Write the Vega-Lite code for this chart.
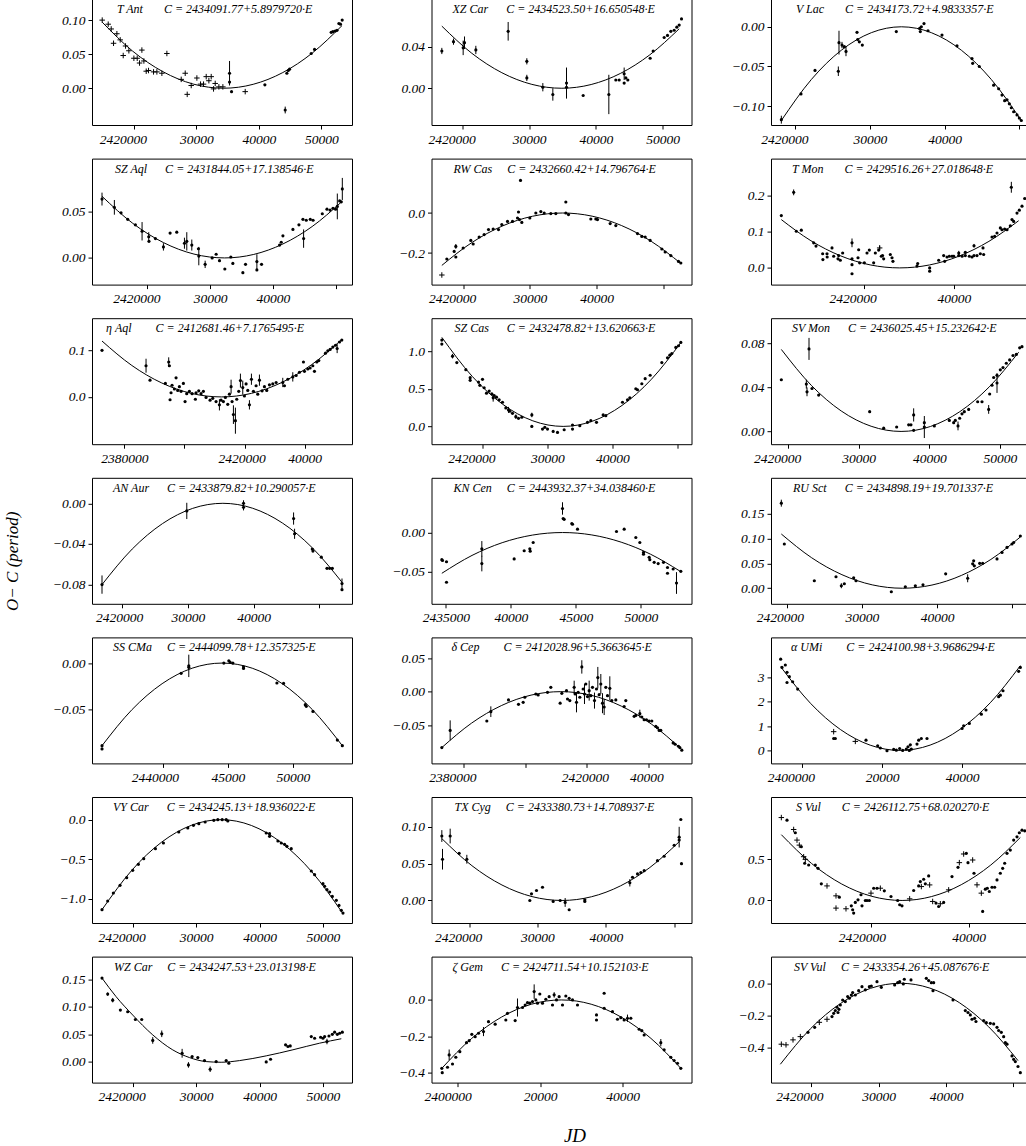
{
"$schema": "https://vega.github.io/schema/vega-lite/v6.json",
"background": "white",
"padding": {"left": 2, "top": -2, "right": 0, "bottom": 0},
"bounds": "flush",
"columns": 3,
"spacing": {"row": 33.6, "column": 79.5},
"config": {
 "view": {"stroke": "black", "strokeWidth": 1},
 "axis": {"grid": false, "domain": false, "ticks": true, "tickColor": "black", "tickSize": 4, "tickWidth": 1, "labelFont": "Liberation Serif", "labelFontStyle": "italic", "labelFontSize": 13.5, "labelColor": "black", "labelPadding": 3, "labelFlush": false, "labelOverlap": false},
 "title": {"font": "Liberation Serif", "fontStyle": "italic", "fontWeight": "normal", "fontSize": 12, "color": "black", "anchor": "start", "frame": "group", "offset": -17, "baseline": "alphabetic", "orient": "top"},
 "point": {"filled": true, "size": 10, "color": "black", "opacity": 1, "shape": "circle"},
 "line": {"color": "black", "strokeWidth": 1, "interpolate": "monotone"}
},
"datasets": {
"d1": [{"x":2414933,"y":0.100,"t":"v"},{"x":2415893,"y":0.094,"t":"v"},{"x":2416373,"y":0.087,"t":"v"},{"x":2416747,"y":0.066,"t":"v"},{"x":2417280,"y":0.080,"t":"v"},{"x":2417813,"y":0.071,"t":"v"},{"x":2418293,"y":0.048,"t":"v"},{"x":2418667,"y":0.062,"t":"v"},{"x":2419200,"y":0.055,"t":"v"},{"x":2420000,"y":0.044,"t":"v"},{"x":2420533,"y":0.044,"t":"v"},{"x":2420907,"y":0.037,"t":"v"},{"x":2421280,"y":0.056,"t":"v"},{"x":2421600,"y":0.040,"t":"v"},{"x":2421973,"y":0.025,"t":"v"},{"x":2422347,"y":0.026,"t":"v"},{"x":2423147,"y":0.024,"t":"v"},{"x":2423680,"y":0.024,"t":"v"},{"x":2424480,"y":0.022,"t":"v"},{"x":2425280,"y":0.051,"t":"v"},{"x":2427573,"y":0.013,"t":"v"},{"x":2428213,"y":0.022,"t":"v"},{"x":2428533,"y":-0.009,"t":"v"},{"x":2429173,"y":0.004,"t":"v"},{"x":2430080,"y":0.015,"t":"v"},{"x":2430667,"y":0.006,"t":"v"},{"x":2431147,"y":0.006,"t":"v"},{"x":2431573,"y":0.017,"t":"v"},{"x":2432000,"y":0.011,"t":"v"},{"x":2432373,"y":0.017,"t":"v"},{"x":2432747,"y":-0.001,"t":"v"},{"x":2433013,"y":0.007,"t":"v"},{"x":2433600,"y":0.002,"t":"v"},{"x":2434240,"y":0.002,"t":"v"},{"x":2435307,"y":0.022,"e":0.018},{"x":2435307,"y":0.009},{"x":2435627,"y":-0.005},{"x":2437813,"y":-0.005,"t":"v"},{"x":2440960,"y":0.005},{"x":2444213,"y":-0.032,"e":0.005},{"x":2444480,"y":0.022},{"x":2444700,"y":0.026},{"x":2444907,"y":0.028},{"x":2448373,"y":0.051},{"x":2448907,"y":0.057},{"x":2451573,"y":0.082},{"x":2451850,"y":0.083},{"x":2452213,"y":0.084},{"x":2452500,"y":0.085},{"x":2452800,"y":0.095},{"x":2453050,"y":0.094},{"x":2453333,"y":0.100}],
"f1": [{"x":2414933,"y":0.097},{"x":2419787,"y":0.0546},{"x":2424642,"y":0.0243},{"x":2429496,"y":0.0061},{"x":2434350,"y":0},{"x":2439089,"y":0.00575},{"x":2443828,"y":0.023},{"x":2448567,"y":0.0518},{"x":2453306,"y":0.092}],
"d2": [{"x":2412766,"y":0.064,"e":0.007},{"x":2414734,"y":0.055,"e":0.008},{"x":2415798,"y":0.049},{"x":2416862,"y":0.042},{"x":2418085,"y":0.036},{"x":2419149,"y":0.029,"e":0.01},{"x":2420213,"y":0.023,"e":0.005},{"x":2420250,"y":0.018},{"x":2421277,"y":0.021},{"x":2422553,"y":0.012,"e":0.004},{"x":2423617,"y":0.027},{"x":2424681,"y":0.028},{"x":2425904,"y":0.016,"e":0.006},{"x":2426277,"y":0.018,"e":0.01},{"x":2427075,"y":0.014,"e":0.006},{"x":2428138,"y":0.010},{"x":2428191,"y":0.002,"e":0.01},{"x":2429202,"y":-0.007,"e":0.004},{"x":2430319,"y":0.000},{"x":2430957,"y":0.004},{"x":2431489,"y":-0.003},{"x":2432340,"y":-0.012},{"x":2433298,"y":0.001},{"x":2433617,"y":-0.006},{"x":2435213,"y":-0.016},{"x":2435638,"y":-0.007},{"x":2437447,"y":-0.004,"e":0.008},{"x":2437447,"y":-0.013},{"x":2438191,"y":-0.007},{"x":2441064,"y":0.014},{"x":2441330,"y":0.017},{"x":2441596,"y":0.024},{"x":2443191,"y":0.031},{"x":2444149,"y":0.036},{"x":2444787,"y":0.042},{"x":2444894,"y":0.021,"e":0.01},{"x":2445319,"y":0.041},{"x":2445957,"y":0.042},{"x":2446400,"y":0.041},{"x":2447872,"y":0.048},{"x":2448617,"y":0.053},{"x":2449100,"y":0.052},{"x":2449574,"y":0.054},{"x":2449990,"y":0.053},{"x":2450266,"y":0.056,"e":0.014},{"x":2450638,"y":0.062},{"x":2451064,"y":0.075,"e":0.012},{"x":2450900,"y":0.061}],
"f2": [{"x":2412766,"y":0.067},{"x":2417650,"y":0.0377},{"x":2422533,"y":0.01675},{"x":2427417,"y":0.0042},{"x":2432300,"y":0},{"x":2436950,"y":0.0038},{"x":2441600,"y":0.0152},{"x":2446250,"y":0.0341},{"x":2450900,"y":0.0607}],
"d3": [{"x":2416900,"y":0.036,"e":0.003},{"x":2418650,"y":0.045,"e":0.003},{"x":2420100,"y":0.039,"e":0.007},{"x":2420300,"y":0.044,"e":0.006},{"x":2422000,"y":0.037,"e":0.004},{"x":2426850,"y":0.055,"e":0.009},{"x":2429650,"y":0.026,"e":0.003},{"x":2429650,"y":0.010,"e":0.003},{"x":2432050,"y":0.001,"e":0.004},{"x":2433550,"y":-0.006,"e":0.006},{"x":2435600,"y":0.005,"e":0.015},{"x":2435600,"y":0.001},{"x":2438100,"y":-0.007},{"x":2441950,"y":-0.006,"e":0.019},{"x":2443000,"y":0.008},{"x":2443500,"y":0.008},{"x":2444250,"y":0.005},{"x":2444250,"y":0.014,"e":0.006},{"x":2444500,"y":0.010},{"x":2444800,"y":0.008},{"x":2448150,"y":0.029},{"x":2448600,"y":0.036},{"x":2450250,"y":0.049},{"x":2450750,"y":0.051},{"x":2451250,"y":0.055},{"x":2451750,"y":0.056},{"x":2452150,"y":0.059},{"x":2452500,"y":0.061},{"x":2452850,"y":0.067}],
"f3": [{"x":2416900,"y":0.060},{"x":2421400,"y":0.03375},{"x":2425900,"y":0.015},{"x":2430400,"y":0.00375},{"x":2434900,"y":0},{"x":2439300,"y":0.0036},{"x":2443700,"y":0.01435},{"x":2448100,"y":0.0323},{"x":2452500,"y":0.0574}],
"d4": [{"x":2416800,"y":-0.310,"t":"v"},{"x":2417550,"y":-0.230},{"x":2418650,"y":-0.192},{"x":2418900,"y":-0.167,"e":0.012},{"x":2418900,"y":-0.220},{"x":2420000,"y":-0.175},{"x":2421150,"y":-0.137},{"x":2421500,"y":-0.155},{"x":2422400,"y":-0.120},{"x":2423150,"y":-0.108},{"x":2423800,"y":-0.083},{"x":2424500,"y":-0.080},{"x":2425300,"y":-0.083},{"x":2425800,"y":-0.058},{"x":2426650,"y":-0.042},{"x":2427400,"y":-0.042},{"x":2428150,"y":-0.025},{"x":2428300,"y":0.005},{"x":2428450,"y":-0.033},{"x":2428800,"y":-0.047},{"x":2428600,"y":0.163},{"x":2430000,"y":-0.025},{"x":2430900,"y":0.000},{"x":2431650,"y":0.007},{"x":2432150,"y":0.000},{"x":2433150,"y":-0.003},{"x":2433900,"y":-0.003},{"x":2435400,"y":0.055},{"x":2435400,"y":0.000},{"x":2435800,"y":-0.008},{"x":2439150,"y":-0.030},{"x":2439900,"y":-0.030},{"x":2440150,"y":-0.033},{"x":2442050,"y":-0.053},{"x":2442900,"y":-0.063},{"x":2446150,"y":-0.103},{"x":2446800,"y":-0.117},{"x":2447300,"y":-0.120},{"x":2448050,"y":-0.137},{"x":2449800,"y":-0.180},{"x":2450300,"y":-0.195},{"x":2451150,"y":-0.213},{"x":2452300,"y":-0.242},{"x":2452650,"y":-0.250}],
"f4": [{"x":2416800,"y":-0.262},{"x":2421325,"y":-0.1474},{"x":2425850,"y":-0.0655},{"x":2430375,"y":-0.0164},{"x":2434900,"y":0},{"x":2439338,"y":-0.01575},{"x":2443775,"y":-0.063},{"x":2448213,"y":-0.14175},{"x":2452650,"y":-0.252}],
"d5": [{"x":2418125,"y":-0.117,"e":0.005},{"x":2420759,"y":-0.0845},{"x":2422634,"y":-0.055},{"x":2425759,"y":-0.056,"e":0.006},{"x":2425848,"y":-0.020,"e":0.015},{"x":2426250,"y":-0.023,"e":0.004},{"x":2426562,"y":-0.025},{"x":2426785,"y":-0.031,"e":0.006},{"x":2428258,"y":-0.007},{"x":2428348,"y":-0.016},{"x":2428571,"y":-0.019},{"x":2428973,"y":-0.023},{"x":2433526,"y":-0.006},{"x":2436651,"y":-0.002},{"x":2436741,"y":-0.006},{"x":2436875,"y":0.000},{"x":2437232,"y":0.004},{"x":2437767,"y":-0.005},{"x":2439642,"y":-0.0105},{"x":2441651,"y":-0.024},{"x":2443660,"y":-0.040},{"x":2443750,"y":-0.046},{"x":2444642,"y":-0.050},{"x":2446562,"y":-0.0735},{"x":2447232,"y":-0.078},{"x":2447678,"y":-0.086},{"x":2448035,"y":-0.093},{"x":2448350,"y":-0.092},{"x":2448660,"y":-0.097},{"x":2448928,"y":-0.102},{"x":2449240,"y":-0.107},{"x":2449687,"y":-0.111},{"x":2450000,"y":-0.115},{"x":2450267,"y":-0.118}],
"f5": [{"x":2418125,"y":-0.118},{"x":2422144,"y":-0.0664},{"x":2426163,"y":-0.0295},{"x":2430181,"y":-0.0074},{"x":2434200,"y":0},{"x":2438217,"y":-0.0074},{"x":2442234,"y":-0.0295},{"x":2446250,"y":-0.0664},{"x":2450267,"y":-0.118}],
"d6": [{"x":2401722,"y":0.144},{"x":2404460,"y":0.208,"e":0.008},{"x":2405052,"y":0.101},{"x":2406162,"y":0.104},{"x":2408900,"y":0.069},{"x":2409418,"y":0.060},{"x":2410898,"y":0.039},{"x":2410950,"y":0.023},{"x":2411860,"y":0.039},{"x":2411900,"y":0.030},{"x":2412970,"y":0.055},{"x":2413340,"y":0.032},{"x":2414302,"y":0.025},{"x":2414450,"y":0.034},{"x":2414820,"y":0.021},{"x":2415338,"y":0.041},{"x":2417410,"y":0.069,"e":0.012},{"x":2417410,"y":0.025},{"x":2417410,"y":0.009},{"x":2417410,"y":-0.016},{"x":2418742,"y":0.028},{"x":2418890,"y":0.050},{"x":2419100,"y":0.014},{"x":2420148,"y":0.014},{"x":2420740,"y":0.041},{"x":2421258,"y":0.049},{"x":2422220,"y":0.014},{"x":2422590,"y":0.041},{"x":2423330,"y":0.049},{"x":2423552,"y":0.055,"e":0.006,"t":"v"},{"x":2423922,"y":0.032},{"x":2424200,"y":0.034},{"x":2424440,"y":0.025},{"x":2425920,"y":0.037},{"x":2426290,"y":0.028},{"x":2426500,"y":0.018},{"x":2431840,"y":0.005},{"x":2431990,"y":0.012},{"x":2434652,"y":0.000},{"x":2434652,"y":-0.009},{"x":2436650,"y":0.021},{"x":2437760,"y":0.034},{"x":2437980,"y":0.018},{"x":2438500,"y":0.030},{"x":2439020,"y":0.032},{"x":2439610,"y":0.032},{"x":2440000,"y":0.032},{"x":2441110,"y":0.041,"e":0.006},{"x":2441110,"y":0.034},{"x":2441850,"y":0.032},{"x":2442570,"y":0.034},{"x":2442570,"y":0.043},{"x":2443460,"y":0.032},{"x":2444050,"y":0.030},{"x":2444494,"y":0.061,"e":0.005},{"x":2444494,"y":0.034},{"x":2445160,"y":0.034},{"x":2445900,"y":0.039},{"x":2446492,"y":0.055},{"x":2446640,"y":0.037},{"x":2448490,"y":0.085},{"x":2449080,"y":0.087},{"x":2449600,"y":0.096},{"x":2450340,"y":0.110},{"x":2450710,"y":0.105},{"x":2451300,"y":0.107},{"x":2451820,"y":0.105},{"x":2452560,"y":0.116},{"x":2452782,"y":0.222,"e":0.015},{"x":2452930,"y":0.133},{"x":2453300,"y":0.128},{"x":2454040,"y":0.151},{"x":2454560,"y":0.159},{"x":2455150,"y":0.170},{"x":2455740,"y":0.191}],
"f6": [{"x":2401722,"y":0.133},{"x":2408292,"y":0.0748},{"x":2414861,"y":0.03325},{"x":2421431,"y":0.0083},{"x":2428000,"y":0},{"x":2434603,"y":0.0081},{"x":2441205,"y":0.0325},{"x":2447808,"y":0.0731},{"x":2454410,"y":0.130}],
"d7": [{"x":2372563,"y":0.100},{"x":2387215,"y":0.067,"e":0.015},{"x":2388547,"y":0.036},{"x":2393653,"y":0.029},{"x":2394763,"y":0.075,"e":0.01},{"x":2394985,"y":0.067},{"x":2395207,"y":-0.006},{"x":2395540,"y":0.009},{"x":2395873,"y":0.025},{"x":2396650,"y":0.017},{"x":2397205,"y":0.041},{"x":2397760,"y":0.014},{"x":2398315,"y":0.022},{"x":2398870,"y":0.012},{"x":2399647,"y":0.029},{"x":2400202,"y":-0.010},{"x":2400757,"y":0.007},{"x":2401645,"y":0.012},{"x":2402533,"y":0.007},{"x":2403643,"y":-0.005},{"x":2403865,"y":0.009},{"x":2404753,"y":0.013},{"x":2405530,"y":0.007},{"x":2406307,"y":0.012},{"x":2407195,"y":-0.001},{"x":2408527,"y":-0.007},{"x":2409415,"y":-0.003},{"x":2410525,"y":-0.010},{"x":2411635,"y":-0.017,"e":0.012},{"x":2412190,"y":-0.007},{"x":2412967,"y":-0.010},{"x":2413633,"y":-0.001},{"x":2414410,"y":-0.016},{"x":2414965,"y":0.006},{"x":2415520,"y":0.022,"e":0.015},{"x":2415853,"y":-0.010},{"x":2416297,"y":-0.038,"e":0.02},{"x":2416963,"y":-0.051,"e":0.028},{"x":2417407,"y":-0.005},{"x":2418073,"y":0.012},{"x":2418628,"y":0.035,"e":0.015},{"x":2419405,"y":0.020,"e":0.015},{"x":2419960,"y":0.002},{"x":2420515,"y":0.028},{"x":2421070,"y":0.014},{"x":2421625,"y":-0.017,"e":0.01},{"x":2422291,"y":0.038,"e":0.012},{"x":2422957,"y":0.012},{"x":2423845,"y":0.024},{"x":2424400,"y":0.006},{"x":2424955,"y":0.036,"e":0.012},{"x":2425843,"y":0.013},{"x":2426620,"y":0.022},{"x":2427397,"y":0.014},{"x":2428285,"y":0.026},{"x":2429395,"y":0.028},{"x":2430505,"y":0.031},{"x":2432725,"y":0.031,"e":0.01},{"x":2433280,"y":0.024},{"x":2434390,"y":0.038},{"x":2436055,"y":0.043,"e":0.01},{"x":2437165,"y":0.046},{"x":2438275,"y":0.053},{"x":2439607,"y":0.075},{"x":2439940,"y":0.055},{"x":2441050,"y":0.060},{"x":2441827,"y":0.062},{"x":2442715,"y":0.067},{"x":2443270,"y":0.055},{"x":2444047,"y":0.075},{"x":2444713,"y":0.078},{"x":2446933,"y":0.094},{"x":2447710,"y":0.099},{"x":2448487,"y":0.102},{"x":2449375,"y":0.107},{"x":2450263,"y":0.111},{"x":2450818,"y":0.104,"e":0.01},{"x":2451595,"y":0.118},{"x":2452372,"y":0.122}],
"f7": [{"x":2372563,"y":0.120},{"x":2382497,"y":0.0675},{"x":2392432,"y":0.030},{"x":2402366,"y":0.0075},{"x":2412300,"y":0},{"x":2422263,"y":0.0076},{"x":2432225,"y":0.0305},{"x":2442188,"y":0.0686},{"x":2452150,"y":0.122}],
"d8": [{"x":2413744,"y":1.147},{"x":2413744,"y":1.094},{"x":2415385,"y":0.933,"e":0.03},{"x":2416051,"y":0.848},{"x":2417436,"y":0.754},{"x":2418103,"y":0.647},{"x":2418103,"y":0.612},{"x":2419385,"y":0.589},{"x":2419590,"y":0.545},{"x":2420000,"y":0.625},{"x":2420256,"y":0.513},{"x":2420615,"y":0.442},{"x":2421026,"y":0.469},{"x":2421436,"y":0.433},{"x":2421641,"y":0.379,"e":0.05},{"x":2421795,"y":0.411},{"x":2422154,"y":0.388},{"x":2422564,"y":0.353},{"x":2423077,"y":0.321},{"x":2423590,"y":0.246},{"x":2424000,"y":0.219,"e":0.04},{"x":2424205,"y":0.201},{"x":2424615,"y":0.174},{"x":2425128,"y":0.129,"e":0.03},{"x":2425538,"y":0.107},{"x":2426051,"y":0.121},{"x":2427590,"y":0.152,"e":0.03},{"x":2427590,"y":0.000},{"x":2429230,"y":-0.036},{"x":2429590,"y":-0.013},{"x":2430000,"y":-0.036},{"x":2430872,"y":-0.067},{"x":2431538,"y":-0.080},{"x":2432564,"y":-0.045},{"x":2433846,"y":0.018},{"x":2433846,"y":-0.036},{"x":2434974,"y":0.009},{"x":2436154,"y":0.054},{"x":2436667,"y":0.076},{"x":2437538,"y":0.054},{"x":2438564,"y":0.152},{"x":2438974,"y":0.143},{"x":2441538,"y":0.321},{"x":2442308,"y":0.353},{"x":2442667,"y":0.379},{"x":2443590,"y":0.500},{"x":2443846,"y":0.487},{"x":2444513,"y":0.567},{"x":2445026,"y":0.634},{"x":2445795,"y":0.679},{"x":2447590,"y":0.848},{"x":2448462,"y":0.911},{"x":2448820,"y":0.946},{"x":2449128,"y":0.969},{"x":2449744,"y":1.049},{"x":2450154,"y":1.071},{"x":2450513,"y":1.116}],
"f8": [{"x":2413744,"y":1.183},{"x":2418410,"y":0.6654},{"x":2423077,"y":0.2958},{"x":2427744,"y":0.0739},{"x":2432410,"y":0},{"x":2436936,"y":0.0696},{"x":2441462,"y":0.2783},{"x":2445987,"y":0.626},{"x":2450513,"y":1.113}],
"d9": [{"x":2419057,"y":0.047},{"x":2422594,"y":0.043,"e":0.004},{"x":2422690,"y":0.036,"e":0.004},{"x":2422972,"y":0.075,"e":0.01},{"x":2423396,"y":0.039},{"x":2424340,"y":0.033},{"x":2431557,"y":0.018},{"x":2433538,"y":0.003},{"x":2435377,"y":0.004},{"x":2437075,"y":0.006},{"x":2437400,"y":0.006},{"x":2437783,"y":0.015,"e":0.006},{"x":2437783,"y":0.001},{"x":2439293,"y":0.008},{"x":2439293,"y":0.004,"e":0.01},{"x":2440707,"y":0.005},{"x":2442830,"y":0.010},{"x":2443443,"y":0.008},{"x":2443680,"y":0.010},{"x":2444057,"y":0.005,"e":0.004},{"x":2444292,"y":0.012},{"x":2444623,"y":0.016},{"x":2444953,"y":0.018},{"x":2445566,"y":0.020},{"x":2446840,"y":0.027},{"x":2447453,"y":0.027},{"x":2448396,"y":0.020,"e":0.004},{"x":2448538,"y":0.034},{"x":2448868,"y":0.042},{"x":2449104,"y":0.049},{"x":2449576,"y":0.051},{"x":2449576,"y":0.044,"e":0.009},{"x":2450047,"y":0.056},{"x":2450425,"y":0.058},{"x":2450896,"y":0.062},{"x":2451368,"y":0.065},{"x":2451840,"y":0.069},{"x":2452311,"y":0.070},{"x":2452783,"y":0.076},{"x":2453113,"y":0.077}],
"f9": [{"x":2419057,"y":0.0745},{"x":2423293,"y":0.0419},{"x":2427529,"y":0.0186},{"x":2431764,"y":0.0047},{"x":2436000,"y":0},{"x":2440161,"y":0.0045},{"x":2444321,"y":0.018},{"x":2448482,"y":0.0405},{"x":2452642,"y":0.072}],
"d10": [{"x":2416954,"y":-0.080,"e":0.009},{"x":2429848,"y":-0.0075,"e":0.008},{"x":2438477,"y":0.000,"e":0.003},{"x":2438477,"y":-0.004,"e":0.003},{"x":2446091,"y":-0.015,"e":0.006},{"x":2446243,"y":-0.030,"e":0.005},{"x":2448934,"y":-0.045},{"x":2449035,"y":-0.047},{"x":2450305,"y":-0.053},{"x":2451168,"y":-0.064},{"x":2451574,"y":-0.064},{"x":2451980,"y":-0.064},{"x":2453452,"y":-0.079,"e":0.005},{"x":2453452,"y":-0.085}],
"f10": [{"x":2416954,"y":-0.080},{"x":2421549,"y":-0.045},{"x":2426145,"y":-0.020},{"x":2430740,"y":-0.005},{"x":2435335,"y":0},{"x":2439864,"y":-0.00486},{"x":2444394,"y":-0.0194},{"x":2448923,"y":-0.0437},{"x":2453452,"y":-0.0777}],
"d11": [{"x":2434692,"y":-0.035},{"x":2434743,"y":-0.036},{"x":2435051,"y":-0.0376},{"x":2435051,"y":-0.064},{"x":2437769,"y":-0.021,"e":0.01},{"x":2437769,"y":-0.040,"e":0.01},{"x":2440256,"y":-0.034},{"x":2441026,"y":-0.0235},{"x":2441461,"y":-0.021},{"x":2441487,"y":-0.024},{"x":2441718,"y":-0.0128},{"x":2443974,"y":0.031,"e":0.008},{"x":2444025,"y":0.018},{"x":2444102,"y":0.017},{"x":2444692,"y":0.0115},{"x":2444743,"y":0.0107},{"x":2445128,"y":0.0043},{"x":2448128,"y":0.0013},{"x":2448718,"y":0.0043},{"x":2449615,"y":-0.0064},{"x":2449923,"y":-0.0128},{"x":2450205,"y":-0.0256},{"x":2450205,"y":-0.028},{"x":2450641,"y":-0.032},{"x":2450692,"y":-0.035},{"x":2451025,"y":-0.0384},{"x":2451333,"y":-0.040},{"x":2451743,"y":-0.0384},{"x":2452051,"y":-0.045},{"x":2452051,"y":-0.0525},{"x":2452487,"y":-0.047},{"x":2452743,"y":-0.065,"e":0.014},{"x":2453076,"y":-0.050}],
"f11": [{"x":2434692,"y":-0.0525},{"x":2437013,"y":-0.0295},{"x":2439333,"y":-0.0131},{"x":2441654,"y":-0.0033},{"x":2443974,"y":0},{"x":2446231,"y":-0.0031},{"x":2448487,"y":-0.0124},{"x":2450744,"y":-0.0279},{"x":2453000,"y":-0.0496}],
"d12": [{"x":2419244,"y":0.171,"e":0.007},{"x":2419644,"y":0.089},{"x":2423644,"y":0.015},{"x":2426533,"y":0.023},{"x":2427244,"y":0.005,"e":0.005},{"x":2427644,"y":0.009},{"x":2428889,"y":0.021},{"x":2429200,"y":0.015},{"x":2433911,"y":-0.007},{"x":2435778,"y":0.003},{"x":2437111,"y":0.005},{"x":2438133,"y":0.007},{"x":2441156,"y":0.029},{"x":2444089,"y":0.020,"e":0.008},{"x":2444756,"y":0.049},{"x":2444889,"y":0.055},{"x":2444978,"y":0.045},{"x":2445689,"y":0.050},{"x":2446089,"y":0.050},{"x":2448000,"y":0.059},{"x":2448667,"y":0.072},{"x":2449333,"y":0.082},{"x":2450000,"y":0.089},{"x":2450222,"y":0.092},{"x":2451111,"y":0.105}],
"f12": [{"x":2419244,"y":0.109},{"x":2423284,"y":0.0613},{"x":2427324,"y":0.02725},{"x":2431364,"y":0.0068},{"x":2435404,"y":0},{"x":2439331,"y":0.0064},{"x":2443258,"y":0.02575},{"x":2447184,"y":0.0579},{"x":2451111,"y":0.103}],
"d13": [{"x":2435334,"y":-0.0885},{"x":2435334,"y":-0.092},{"x":2441410,"y":-0.011},{"x":2442000,"y":-0.003,"e":0.012},{"x":2442000,"y":-0.0046},{"x":2444692,"y":0.000},{"x":2445077,"y":0.0025},{"x":2445180,"y":0.0007},{"x":2445385,"y":0.000},{"x":2446205,"y":-0.004},{"x":2446205,"y":-0.0057},{"x":2448769,"y":-0.0214},{"x":2449282,"y":-0.0218},{"x":2450949,"y":-0.0446},{"x":2451026,"y":-0.0464},{"x":2451538,"y":-0.0518},{"x":2453410,"y":-0.0825},{"x":2453795,"y":-0.0885}],
"f13": [{"x":2435334,"y":-0.0885},{"x":2437642,"y":-0.0498},{"x":2439950,"y":-0.0221},{"x":2442257,"y":-0.0055},{"x":2444565,"y":0},{"x":2446873,"y":-0.0055},{"x":2449180,"y":-0.0221},{"x":2451488,"y":-0.0498},{"x":2453795,"y":-0.0885}],
"d14": [{"x":2372973,"y":-0.0837},{"x":2375676,"y":-0.058,"e":0.015},{"x":2387567,"y":-0.044},{"x":2388864,"y":-0.030,"e":0.008},{"x":2394594,"y":-0.0124},{"x":2397837,"y":-0.019},{"x":2399351,"y":-0.016},{"x":2399892,"y":-0.0084},{"x":2403459,"y":-0.0035},{"x":2404216,"y":-0.005},{"x":2407240,"y":-0.001},{"x":2408322,"y":0.0064},{"x":2411349,"y":-0.0173},{"x":2411890,"y":-0.0025},{"x":2413404,"y":0.0015},{"x":2413728,"y":-0.011},{"x":2414485,"y":-0.0134},{"x":2415890,"y":0.0064,"e":0.01},{"x":2416214,"y":-0.0035},{"x":2416647,"y":-0.016,"e":0.015},{"x":2417187,"y":-0.001},{"x":2417727,"y":-0.0084},{"x":2418375,"y":0.037,"e":0.01},{"x":2418808,"y":0.004},{"x":2419240,"y":-0.0035,"e":0.015},{"x":2419672,"y":0.0114},{"x":2420213,"y":-0.0074},{"x":2420754,"y":0.0015,"e":0.015},{"x":2421294,"y":-0.006},{"x":2421835,"y":0.0064},{"x":2422484,"y":-0.0134,"e":0.012},{"x":2423132,"y":0.004},{"x":2423564,"y":0.021,"e":0.016},{"x":2423997,"y":-0.0045},{"x":2424538,"y":0.0114,"e":0.015},{"x":2425078,"y":-0.0173,"e":0.015},{"x":2425619,"y":-0.023,"e":0.012},{"x":2426159,"y":0.0064},{"x":2426699,"y":-0.006},{"x":2427456,"y":0.005,"e":0.018},{"x":2428105,"y":-0.0134},{"x":2429402,"y":-0.0124},{"x":2432104,"y":-0.0223},{"x":2432645,"y":-0.0134},{"x":2435348,"y":-0.037},{"x":2435888,"y":-0.0356},{"x":2437185,"y":-0.033,"e":0.006},{"x":2437834,"y":-0.038},{"x":2438590,"y":-0.042},{"x":2439347,"y":-0.042},{"x":2440212,"y":-0.044},{"x":2441077,"y":-0.044},{"x":2442373,"y":-0.052},{"x":2442914,"y":-0.054},{"x":2443455,"y":-0.058},{"x":2443995,"y":-0.058},{"x":2447995,"y":-0.0767},{"x":2448643,"y":-0.0787},{"x":2449723,"y":-0.0817},{"x":2450156,"y":-0.0837},{"x":2450805,"y":-0.0876}],
"f14": [{"x":2372973,"y":-0.0837},{"x":2382619,"y":-0.0471},{"x":2392264,"y":-0.0209},{"x":2401910,"y":-0.0052},{"x":2411555,"y":0},{"x":2421368,"y":-0.0054},{"x":2431180,"y":-0.02165},{"x":2440993,"y":-0.0487},{"x":2450805,"y":-0.0866}],
"d15": [{"x":2394669,"y":3.75},{"x":2395002,"y":3.41},{"x":2395835,"y":3.51},{"x":2396252,"y":3.21},{"x":2396835,"y":3.03},{"x":2396252,"y":2.79},{"x":2397668,"y":2.82},{"x":2398917,"y":2.52},{"x":2407914,"y":0.77,"t":"v"},{"x":2407914,"y":0.49},{"x":2408330,"y":0.49},{"x":2413328,"y":0.37,"t":"v"},{"x":2415994,"y":0.42},{"x":2418909,"y":0.19},{"x":2419576,"y":0.10},{"x":2421242,"y":-0.01},{"x":2422908,"y":0.04},{"x":2423574,"y":0.01},{"x":2424407,"y":0.08},{"x":2425157,"y":0.0},{"x":2426073,"y":0.05},{"x":2426489,"y":0.15},{"x":2426822,"y":0.0},{"x":2427072,"y":0.23},{"x":2427322,"y":0.05},{"x":2428738,"y":0.26},{"x":2429155,"y":0.42},{"x":2429821,"y":0.49},{"x":2431237,"y":0.49},{"x":2440000,"y":0.90},{"x":2440400,"y":1.01},{"x":2441816,"y":1.11},{"x":2444815,"y":1.49},{"x":2445981,"y":1.66},{"x":2449146,"y":2.21},{"x":2449563,"y":2.27},{"x":2450229,"y":2.45},{"x":2454144,"y":3.25},{"x":2454561,"y":3.41}],
"f15": [{"x":2394669,"y":3.44},{"x":2402127,"y":1.935},{"x":2409585,"y":0.86},{"x":2417042,"y":0.215},{"x":2424500,"y":0},{"x":2432015,"y":0.2175},{"x":2439531,"y":0.87},{"x":2447046,"y":1.9575},{"x":2454561,"y":3.48}],
"d16": [{"x":2415158,"y":-1.139},{"x":2416053,"y":-1.030},{"x":2416947,"y":-0.928},{"x":2418000,"y":-0.831},{"x":2419053,"y":-0.734},{"x":2420000,"y":-0.641},{"x":2420895,"y":-0.565},{"x":2421737,"y":-0.494},{"x":2423579,"y":-0.367},{"x":2424842,"y":-0.295},{"x":2427263,"y":-0.156},{"x":2428684,"y":-0.1055},{"x":2429579,"y":-0.072},{"x":2430421,"y":-0.051},{"x":2431421,"y":-0.030},{"x":2432790,"y":-0.008},{"x":2433421,"y":0},{"x":2434105,"y":0},{"x":2434737,"y":0},{"x":2435000,"y":-0.017},{"x":2441053,"y":-0.169},{"x":2441579,"y":-0.177},{"x":2441579,"y":-0.211},{"x":2442895,"y":-0.270},{"x":2443421,"y":-0.295},{"x":2443947,"y":-0.312},{"x":2444316,"y":-0.338},{"x":2444999,"y":-0.367},{"x":2448158,"y":-0.650},{"x":2448684,"y":-0.696},{"x":2450000,"y":-0.810},{"x":2450263,"y":-0.844},{"x":2450632,"y":-0.886},{"x":2451053,"y":-0.916},{"x":2451474,"y":-0.971},{"x":2452105,"y":-1.021},{"x":2452526,"y":-1.085},{"x":2452895,"y":-1.148},{"x":2453158,"y":-1.182}],
"f16": [{"x":2415158,"y":-1.139},{"x":2419855,"y":-0.6407},{"x":2424553,"y":-0.2848},{"x":2429250,"y":-0.0712},{"x":2433947,"y":0},{"x":2438724,"y":-0.0736},{"x":2443500,"y":-0.2945},{"x":2448277,"y":-0.6626},{"x":2453053,"y":-1.178}],
"d17": [{"x":2416000,"y":0.0875,"e":0.008},{"x":2416098,"y":0.056,"e":0.014},{"x":2417220,"y":0.0875,"e":0.01},{"x":2418537,"y":0.064},{"x":2419659,"y":0.056,"e":0.006},{"x":2428878,"y":0.000},{"x":2429122,"y":0.009},{"x":2429854,"y":0.0135},{"x":2430732,"y":0.018},{"x":2432293,"y":-0.0013},{"x":2433317,"y":0.000},{"x":2434049,"y":-0.0027,"e":0.006},{"x":2434634,"y":-0.0126},{"x":2436927,"y":0.001},{"x":2436927,"y":-0.0013},{"x":2443512,"y":0.024,"e":0.005},{"x":2443902,"y":0.0315},{"x":2444634,"y":0.036},{"x":2445122,"y":0.038},{"x":2445610,"y":0.0405},{"x":2447561,"y":0.054},{"x":2448537,"y":0.060},{"x":2450000,"y":0.075},{"x":2450732,"y":0.086,"e":0.014},{"x":2450732,"y":0.082},{"x":2450976,"y":0.110},{"x":2451073,"y":0.050}],
"f17": [{"x":2416000,"y":0.084},{"x":2420400,"y":0.04725},{"x":2424799,"y":0.021},{"x":2429199,"y":0.00525},{"x":2433598,"y":0},{"x":2437882,"y":0.005},{"x":2442165,"y":0.0199},{"x":2446449,"y":0.0448},{"x":2450732,"y":0.0797}],
"d18": [{"x":2401638,"y":1.008,"t":"v"},{"x":2402798,"y":0.976},{"x":2404163,"y":0.863,"t":"v"},{"x":2404505,"y":0.823},{"x":2404846,"y":0.734,"t":"v"},{"x":2405324,"y":0.673,"t":"v"},{"x":2405734,"y":0.653},{"x":2406212,"y":0.532,"t":"v"},{"x":2406417,"y":0.452},{"x":2406553,"y":0.500,"t":"v"},{"x":2407235,"y":0.431},{"x":2408600,"y":0.431},{"x":2409146,"y":0.391},{"x":2409829,"y":0.202},{"x":2410990,"y":0.177,"t":"v"},{"x":2412833,"y":0.056,"t":"v"},{"x":2412833,"y":-0.093,"t":"v"},{"x":2413515,"y":0.040},{"x":2414880,"y":-0.101,"t":"v"},{"x":2415973,"y":-0.065},{"x":2416246,"y":-0.113},{"x":2416450,"y":-0.153},{"x":2416792,"y":-0.024},{"x":2417338,"y":0.008},{"x":2417952,"y":0.069},{"x":2418157,"y":-0.065},{"x":2418840,"y":0.000},{"x":2419181,"y":0.0},{"x":2419659,"y":0.0},{"x":2420000,"y":0.089,"t":"v"},{"x":2420546,"y":0.149},{"x":2421229,"y":0.149},{"x":2421911,"y":0.149,"t":"v"},{"x":2422730,"y":0.117},{"x":2424096,"y":0.048},{"x":2425461,"y":0.0},{"x":2425871,"y":-0.052},{"x":2426348,"y":-0.065},{"x":2427918,"y":0.020,"t":"v"},{"x":2428737,"y":0.121},{"x":2429761,"y":0.177},{"x":2430102,"y":0.230},{"x":2430307,"y":0.169,"t":"v"},{"x":2430785,"y":0.258},{"x":2431126,"y":0.202},{"x":2431809,"y":0.298},{"x":2432014,"y":0.189,"t":"v"},{"x":2432628,"y":-0.012,"t":"v"},{"x":2433310,"y":-0.032},{"x":2433857,"y":-0.073},{"x":2434198,"y":-0.040,"t":"v"},{"x":2434881,"y":-0.024},{"x":2435905,"y":0.129,"t":"v"},{"x":2436587,"y":0.290},{"x":2437816,"y":0.403},{"x":2438089,"y":0.460,"t":"v"},{"x":2438976,"y":0.565,"t":"v"},{"x":2439522,"y":0.573},{"x":2439864,"y":0.460},{"x":2440819,"y":0.492,"t":"v"},{"x":2441092,"y":0.331},{"x":2441707,"y":0.190,"t":"v"},{"x":2442594,"y":0.089,"t":"v"},{"x":2442867,"y":-0.133},{"x":2443413,"y":0.137},{"x":2443823,"y":0.149},{"x":2444232,"y":0.109},{"x":2444778,"y":0.161},{"x":2445324,"y":0.161},{"x":2445802,"y":0.250},{"x":2446485,"y":0.331},{"x":2446963,"y":0.391},{"x":2447372,"y":0.452},{"x":2447850,"y":0.573},{"x":2448532,"y":0.613},{"x":2449215,"y":0.734},{"x":2449898,"y":0.774},{"x":2450376,"y":0.823},{"x":2450922,"y":0.855},{"x":2451468,"y":0.847}],
"f18": [{"x":2401638,"y":0.8},{"x":2407825,"y":0.45},{"x":2414007,"y":0.2},{"x":2420192,"y":0.05},{"x":2426376,"y":0},{"x":2432427,"y":0.0479},{"x":2438479,"y":0.1915},{"x":2444530,"y":0.4309},{"x":2450581,"y":0.766}],
"d19": [{"x":2415158,"y":0.152},{"x":2416053,"y":0.123,"e":0.003},{"x":2416842,"y":0.112,"e":0.004},{"x":2418053,"y":0.094},{"x":2419211,"y":0.091},{"x":2420421,"y":0.077},{"x":2421421,"y":0.077},{"x":2423158,"y":0.039,"e":0.006},{"x":2424579,"y":0.051,"e":0.006},{"x":2427789,"y":0.0157,"e":0.008},{"x":2428789,"y":-0.0054,"e":0.005},{"x":2429368,"y":0.0097},{"x":2430263,"y":0.0079},{"x":2431316,"y":0.0024},{"x":2432210,"y":-0.0133,"e":0.005},{"x":2433158,"y":0.0006},{"x":2434737,"y":0.0024},{"x":2435158,"y":-0.0024},{"x":2441053,"y":0.000},{"x":2441737,"y":0.0048},{"x":2444105,"y":0.031},{"x":2444474,"y":0.028},{"x":2444842,"y":0.029},{"x":2448158,"y":0.046},{"x":2448684,"y":0.043},{"x":2449632,"y":0.0447},{"x":2450000,"y":0.043},{"x":2450263,"y":0.046},{"x":2450632,"y":0.037,"e":0.005},{"x":2450947,"y":0.047},{"x":2451474,"y":0.050},{"x":2451842,"y":0.054},{"x":2452263,"y":0.050},{"x":2452632,"y":0.052},{"x":2453053,"y":0.054}],
"f19": [{"x":2415158,"y":0.152},{"x":2417368,"y":0.1185},{"x":2420000,"y":0.085},{"x":2423158,"y":0.049},{"x":2426316,"y":0.0218},{"x":2428947,"y":0.0079},{"x":2431579,"y":0.0006},{"x":2433947,"y":-0.0006},{"x":2436842,"y":0.0024},{"x":2441053,"y":0.011},{"x":2445263,"y":0.022},{"x":2449474,"y":0.034},{"x":2452895,"y":0.042}],
"d20": [{"x":2396202,"y":-0.378},{"x":2396300,"y":-0.402},{"x":2397576,"y":-0.372},{"x":2397980,"y":-0.304,"e":0.03},{"x":2398788,"y":-0.354},{"x":2399596,"y":-0.317},{"x":2400566,"y":-0.286},{"x":2402182,"y":-0.236},{"x":2402828,"y":-0.225},{"x":2403474,"y":-0.190},{"x":2404282,"y":-0.203},{"x":2405090,"y":-0.184},{"x":2406302,"y":-0.175,"e":0.025},{"x":2407514,"y":-0.120},{"x":2409130,"y":-0.134},{"x":2411716,"y":-0.111},{"x":2412120,"y":-0.074},{"x":2413978,"y":-0.114},{"x":2414544,"y":-0.042,"e":0.05},{"x":2415756,"y":-0.042},{"x":2416402,"y":-0.028},{"x":2416968,"y":-0.015},{"x":2417534,"y":-0.018},{"x":2418180,"y":-0.009},{"x":2418584,"y":0.046,"e":0.04},{"x":2418988,"y":0.0},{"x":2419392,"y":-0.018},{"x":2419958,"y":0.033},{"x":2420604,"y":-0.018},{"x":2421412,"y":0.004},{"x":2422220,"y":0.018},{"x":2423028,"y":-0.028},{"x":2423432,"y":0.028,"e":0.015},{"x":2423998,"y":0.0},{"x":2424640,"y":0.018},{"x":2425452,"y":-0.028},{"x":2426260,"y":0.022},{"x":2427068,"y":0.009},{"x":2427876,"y":0.0},{"x":2429088,"y":-0.028},{"x":2433694,"y":-0.083},{"x":2433694,"y":-0.111},{"x":2435552,"y":0.037},{"x":2435552,"y":-0.046},{"x":2437572,"y":-0.065},{"x":2438784,"y":-0.107},{"x":2439592,"y":-0.098},{"x":2440400,"y":-0.111},{"x":2441208,"y":-0.101,"e":0.02},{"x":2442016,"y":-0.101},{"x":2444036,"y":-0.162},{"x":2444684,"y":-0.170},{"x":2445248,"y":-0.194},{"x":2449288,"y":-0.236,"e":0.02},{"x":2450096,"y":-0.276},{"x":2451712,"y":-0.317},{"x":2452520,"y":-0.335},{"x":2453328,"y":-0.350},{"x":2454136,"y":-0.378}],
"f20": [{"x":2396202,"y":-0.378},{"x":2403444,"y":-0.2126},{"x":2410686,"y":-0.0945},{"x":2417927,"y":-0.0236},{"x":2425169,"y":0},{"x":2432411,"y":-0.0236},{"x":2439653,"y":-0.0945},{"x":2446894,"y":-0.2126},{"x":2454136,"y":-0.378}],
"d21": [{"x":2415545,"y":-0.379,"t":"v"},{"x":2416238,"y":-0.383,"t":"v"},{"x":2417278,"y":-0.352,"t":"v"},{"x":2418366,"y":-0.332,"t":"v"},{"x":2419505,"y":-0.305},{"x":2420495,"y":-0.274},{"x":2421188,"y":-0.243,"t":"v"},{"x":2422327,"y":-0.224,"t":"v"},{"x":2423069,"y":-0.207},{"x":2423317,"y":-0.187},{"x":2423564,"y":-0.170},{"x":2423812,"y":-0.149},{"x":2423960,"y":-0.182},{"x":2424100,"y":-0.162},{"x":2424307,"y":-0.135},{"x":2424653,"y":-0.104},{"x":2425049,"y":-0.114},{"x":2425396,"y":-0.083},{"x":2425650,"y":-0.093},{"x":2425940,"y":-0.073},{"x":2426138,"y":-0.058},{"x":2426534,"y":-0.073},{"x":2427029,"y":-0.046},{"x":2427524,"y":-0.021},{"x":2428019,"y":-0.041},{"x":2428613,"y":-0.021},{"x":2428910,"y":-0.017},{"x":2429752,"y":0.010},{"x":2430395,"y":-0.025},{"x":2432375,"y":-0.010},{"x":2432821,"y":0.004},{"x":2433118,"y":0.010},{"x":2433662,"y":-0.004},{"x":2433811,"y":0.025},{"x":2434801,"y":0.021},{"x":2437078,"y":0.031},{"x":2437424,"y":0.017},{"x":2437820,"y":0.004},{"x":2438167,"y":0.004},{"x":2438068,"y":-0.046},{"x":2441038,"y":-0.104},{"x":2442869,"y":-0.170},{"x":2443265,"y":-0.182},{"x":2443612,"y":-0.197},{"x":2443860,"y":-0.224},{"x":2444255,"y":-0.218},{"x":2444450,"y":-0.238},{"x":2445592,"y":-0.232},{"x":2445988,"y":-0.245},{"x":2446582,"y":-0.249},{"x":2447077,"y":-0.253},{"x":2447572,"y":-0.274},{"x":2447819,"y":-0.294},{"x":2448215,"y":-0.305},{"x":2448562,"y":-0.332},{"x":2448809,"y":-0.369},{"x":2449057,"y":-0.379},{"x":2449799,"y":-0.452},{"x":2450047,"y":-0.473},{"x":2450294,"y":-0.487},{"x":2450690,"y":-0.518},{"x":2451037,"y":-0.556}],
"f21": [{"x":2415396,"y":-0.504},{"x":2419860,"y":-0.2835},{"x":2424323,"y":-0.126},{"x":2428787,"y":-0.0315},{"x":2433250,"y":0},{"x":2437610,"y":-0.0301},{"x":2441970,"y":-0.12025},{"x":2446330,"y":-0.2706},{"x":2450690,"y":-0.481}]
},
"concat": [
{"width":260,"height":126,"title":{"text":"T Ant\u00a0\u00a0\u00a0\u00a0\u00a0\u00a0\u00a0C = 2434091.77+5.8979720\u00b7E","dx":25},
 "encoding":{"x":{"field":"x","type":"quantitative","scale":{"domain":[2413300,2454900],"nice":false,"zero":false},"axis":{"title":null,"values":[2420000,2430000,2440000,2450000],"labelExpr":"datum.value == 2420000 ? '2420000' : format(datum.value - 2400000, 'd')","labelOffset":{"condition":{"test":"datum.value == 2420000","value":-11},"value":0}}},
  "y":{"field":"y","type":"quantitative","scale":{"domain":[-0.054,0.131],"nice":false,"zero":false},"axis":{"title":null,"values":[0,0.05,0.1],"format":".2f"}}},
 "layer":[
  {"data":{"name":"d1"},"transform":[{"filter":"datum.e > 0"}],"mark":{"type":"errorbar","color":"black","thickness":1},"encoding":{"yError":{"field":"e"}}},
  {"data":{"name":"d1"},"transform":[{"filter":"datum.t != 'v'"}],"mark":{"type":"point"},"encoding":{}},
  {"data":{"name":"d1"},"transform":[{"filter":"datum.t == 'v'"}],"mark":{"type":"point","shape":"M-1,0L1,0M0,-1L0,1","filled":false,"size":30,"strokeWidth":1},"encoding":{}},
  {"data":{"name":"f1"},"mark":{"type":"line"},"encoding":{}}
 ]},
{"width":260,"height":126,"title":{"text":"XZ Car\u00a0\u00a0\u00a0\u00a0\u00a0\u00a0C = 2434523.50+16.650548\u00b7E","dx":21},
 "encoding":{"x":{"field":"x","type":"quantitative","scale":{"domain":[2415350,2454350],"nice":false,"zero":false},"axis":{"title":null,"values":[2420000,2430000,2440000,2450000],"labelExpr":"datum.value == 2420000 ? '2420000' : format(datum.value - 2400000, 'd')","labelOffset":{"condition":{"test":"datum.value == 2420000","value":-11},"value":0}}},
  "y":{"field":"y","type":"quantitative","scale":{"domain":[-0.0355,0.0862],"nice":false,"zero":false},"axis":{"title":null,"values":[0,0.04],"format":".2f"}}},
 "layer":[
  {"data":{"name":"d3"},"transform":[{"filter":"datum.e > 0"}],"mark":{"type":"errorbar","color":"black","thickness":1},"encoding":{"yError":{"field":"e"}}},
  {"data":{"name":"d3"},"mark":{"type":"point"},"encoding":{}},
  {"data":{"name":"f3"},"mark":{"type":"line"},"encoding":{}}
 ]},
{"width":260,"height":126,"title":{"text":"V Lac\u00a0\u00a0\u00a0\u00a0\u00a0\u00a0\u00a0C = 2434173.72+4.9833357\u00b7E","dx":25},
 "encoding":{"x":{"field":"x","type":"quantitative","scale":{"domain":[2416741,2451563],"nice":false,"zero":false},"axis":{"title":null,"values":[2420000,2430000,2440000,2450000],"labelExpr":"datum.value == 2420000 ? '2420000' : datum.value == 2450000 ? '' : format(datum.value - 2400000, 'd')","labelOffset":{"condition":{"test":"datum.value == 2420000","value":-11},"value":0}}},
  "y":{"field":"y","type":"quantitative","scale":{"domain":[-0.1237,0.035],"nice":false,"zero":false},"axis":{"title":null,"values":[-0.1,-0.05,0],"format":".2f"}}},
 "layer":[
  {"data":{"name":"d5"},"transform":[{"filter":"datum.e > 0"}],"mark":{"type":"errorbar","color":"black","thickness":1},"encoding":{"yError":{"field":"e"}}},
  {"data":{"name":"d5"},"mark":{"type":"point"},"encoding":{}},
  {"data":{"name":"f5"},"mark":{"type":"line"},"encoding":{}}
 ]},
{"width":260,"height":126,"title":{"text":"SZ Aql\u00a0\u00a0\u00a0\u00a0\u00a0\u00a0C = 2431844.05+17.138546\u00b7E","dx":23},
 "encoding":{"x":{"field":"x","type":"quantitative","scale":{"domain":[2411170,2452606],"nice":false,"zero":false},"axis":{"title":null,"values":[2420000,2430000,2440000,2450000],"labelExpr":"datum.value == 2420000 ? '2420000' : datum.value == 2450000 ? '' : format(datum.value - 2400000, 'd')","labelOffset":{"condition":{"test":"datum.value == 2420000","value":-11},"value":0}}},
  "y":{"field":"y","type":"quantitative","scale":{"domain":[-0.029,0.108],"nice":false,"zero":false},"axis":{"title":null,"values":[0,0.05],"format":".2f"}}},
 "layer":[
  {"data":{"name":"d2"},"transform":[{"filter":"datum.e > 0"}],"mark":{"type":"errorbar","color":"black","thickness":1},"encoding":{"yError":{"field":"e"}}},
  {"data":{"name":"d2"},"mark":{"type":"point"},"encoding":{}},
  {"data":{"name":"f2"},"mark":{"type":"line"},"encoding":{}}
 ]},
{"width":260,"height":126,"title":{"text":"RW Cas\u00a0\u00a0\u00a0\u00a0\u00a0C = 2432660.42+14.796764\u00b7E","dx":22},
 "encoding":{"x":{"field":"x","type":"quantitative","scale":{"domain":[2415250,2454250],"nice":false,"zero":false},"axis":{"title":null,"values":[2420000,2430000,2440000,2450000],"labelExpr":"datum.value == 2420000 ? '2420000' : datum.value == 2450000 ? '' : format(datum.value - 2400000, 'd')","labelOffset":{"condition":{"test":"datum.value == 2420000","value":-11},"value":0}}},
  "y":{"field":"y","type":"quantitative","scale":{"domain":[-0.358,0.272],"nice":false,"zero":false},"axis":{"title":null,"values":[-0.2,0],"format":".1f"}}},
 "layer":[
  {"data":{"name":"d4"},"transform":[{"filter":"datum.e > 0"}],"mark":{"type":"errorbar","color":"black","thickness":1},"encoding":{"yError":{"field":"e"}}},
  {"data":{"name":"d4"},"transform":[{"filter":"datum.t != 'v'"}],"mark":{"type":"point"},"encoding":{}},
  {"data":{"name":"d4"},"transform":[{"filter":"datum.t == 'v'"}],"mark":{"type":"point","shape":"M-1,0L1,0M0,-1L0,1","filled":false,"size":30,"strokeWidth":1},"encoding":{}},
  {"data":{"name":"f4"},"mark":{"type":"line"},"encoding":{}}
 ]},
{"width":260,"height":126,"title":{"text":"T Mon\u00a0\u00a0\u00a0\u00a0\u00a0\u00a0\u00a0C = 2429516.26+27.018648\u00b7E","dx":21},
 "encoding":{"x":{"field":"x","type":"quantitative","scale":{"domain":[2399428,2457148],"nice":false,"zero":false},"axis":{"title":null,"values":[2420000,2440000],"labelExpr":"datum.value == 2420000 ? '2420000' : format(datum.value - 2400000, 'd')","labelOffset":{"condition":{"test":"datum.value == 2420000","value":-11},"value":0}}},
  "y":{"field":"y","type":"quantitative","scale":{"domain":[-0.046,0.301],"nice":false,"zero":false},"axis":{"title":null,"values":[0,0.1,0.2],"format":".1f"}}},
 "layer":[
  {"data":{"name":"d6"},"transform":[{"filter":"datum.e > 0"}],"mark":{"type":"errorbar","color":"black","thickness":1},"encoding":{"yError":{"field":"e"}}},
  {"data":{"name":"d6"},"transform":[{"filter":"datum.t != 'v'"}],"mark":{"type":"point"},"encoding":{}},
  {"data":{"name":"d6"},"transform":[{"filter":"datum.t == 'v'"}],"mark":{"type":"point","shape":"M-1,0L1,0M0,-1L0,1","filled":false,"size":30,"strokeWidth":1},"encoding":{}},
  {"data":{"name":"f6"},"mark":{"type":"line"},"encoding":{}}
 ]},
{"width":260,"height":126,"title":{"text":"η Aql\u00a0\u00a0\u00a0\u00a0\u00a0\u00a0\u00a0\u00a0C = 2412681.46+7.1765495\u00b7E","dx":14},
 "encoding":{"x":{"field":"x","type":"quantitative","scale":{"domain":[2369233,2455762],"nice":false,"zero":false},"axis":{"title":null,"values":[2380000,2400000,2420000,2440000],"labelExpr":"datum.value == 2400000 ? '' : datum.value < 2430000 ? format(datum.value, 'd') : format(datum.value - 2400000, 'd')","labelOffset":{"condition":{"test":"datum.value == 2420000","value":-3},"value":0}}},
  "y":{"field":"y","type":"quantitative","scale":{"domain":[-0.1015,0.169],"nice":false,"zero":false},"axis":{"title":null,"values":[0,0.1],"format":".1f"}}},
 "layer":[
  {"data":{"name":"d7"},"transform":[{"filter":"datum.e > 0"}],"mark":{"type":"errorbar","color":"black","thickness":1},"encoding":{"yError":{"field":"e"}}},
  {"data":{"name":"d7"},"mark":{"type":"point"},"encoding":{}},
  {"data":{"name":"f7"},"mark":{"type":"line"},"encoding":{}}
 ]},
{"width":260,"height":126,"title":{"text":"SZ Cas\u00a0\u00a0\u00a0\u00a0\u00a0\u00a0C = 2432478.82+13.620663\u00b7E","dx":23},
 "encoding":{"x":{"field":"x","type":"quantitative","scale":{"domain":[2412154,2452154],"nice":false,"zero":false},"axis":{"title":null,"values":[2420000,2430000,2440000,2450000],"labelExpr":"datum.value == 2420000 ? '2420000' : datum.value == 2450000 ? '' : format(datum.value - 2400000, 'd')","labelOffset":{"condition":{"test":"datum.value == 2420000","value":-11},"value":0}}},
  "y":{"field":"y","type":"quantitative","scale":{"domain":[-0.2366,1.4375],"nice":false,"zero":false},"axis":{"title":null,"values":[0,0.5,1],"format":".1f"}}},
 "layer":[
  {"data":{"name":"d8"},"transform":[{"filter":"datum.e > 0"}],"mark":{"type":"errorbar","color":"black","thickness":1},"encoding":{"yError":{"field":"e"}}},
  {"data":{"name":"d8"},"mark":{"type":"point"},"encoding":{}},
  {"data":{"name":"f8"},"mark":{"type":"line"},"encoding":{}}
 ]},
{"width":260,"height":126,"title":{"text":"SV Mon\u00a0\u00a0\u00a0\u00a0\u00a0\u00a0C = 2436025.45+15.232642\u00b7E","dx":21},
 "encoding":{"x":{"field":"x","type":"quantitative","scale":{"domain":[2417594,2454387],"nice":false,"zero":false},"axis":{"title":null,"values":[2420000,2430000,2440000,2450000],"labelExpr":"datum.value == 2420000 ? '2420000' : format(datum.value - 2400000, 'd')","labelOffset":{"condition":{"test":"datum.value == 2420000","value":-11},"value":0}}},
  "y":{"field":"y","type":"quantitative","scale":{"domain":[-0.0116,0.1029],"nice":false,"zero":false},"axis":{"title":null,"values":[0,0.04,0.08],"format":".2f"}}},
 "layer":[
  {"data":{"name":"d9"},"transform":[{"filter":"datum.e > 0"}],"mark":{"type":"errorbar","color":"black","thickness":1},"encoding":{"yError":{"field":"e"}}},
  {"data":{"name":"d9"},"mark":{"type":"point"},"encoding":{}},
  {"data":{"name":"f9"},"mark":{"type":"line"},"encoding":{}}
 ]},
{"width":260,"height":126,"title":{"text":"AN Aur\u00a0\u00a0\u00a0\u00a0\u00a0\u00a0C = 2433879.82+10.290057\u00b7E","dx":21},
 "encoding":{"x":{"field":"x","type":"quantitative","scale":{"domain":[2415431,2454974],"nice":false,"zero":false},"axis":{"title":null,"values":[2420000,2430000,2440000,2450000],"labelExpr":"datum.value == 2420000 ? '2420000' : datum.value == 2450000 ? '' : format(datum.value - 2400000, 'd')","labelOffset":{"condition":{"test":"datum.value == 2420000","value":-3},"value":0}}},
  "y":{"field":"y","type":"quantitative","scale":{"domain":[-0.0989,0.0251],"nice":false,"zero":false},"axis":{"title":"O\u2212 C (period)","titleFont":"Liberation Serif","titleFontStyle":"italic","titleFontWeight":"normal","titleFontSize":17,"titleColor":"black","titleX":-71,"titleY":83,"titleAngle":270,"titleBaseline":"bottom","titleAlign":"center","values":[-0.08,-0.04,0],"format":".2f"}}},
 "layer":[
  {"data":{"name":"d10"},"transform":[{"filter":"datum.e > 0"}],"mark":{"type":"errorbar","color":"black","thickness":1},"encoding":{"yError":{"field":"e"}}},
  {"data":{"name":"d10"},"mark":{"type":"point"},"encoding":{}},
  {"data":{"name":"f10"},"mark":{"type":"line"},"encoding":{}}
 ]},
{"width":260,"height":126,"title":{"text":"KN Cen\u00a0\u00a0\u00a0\u00a0\u00a0C = 2443932.37+34.038460\u00b7E","dx":22},
 "encoding":{"x":{"field":"x","type":"quantitative","scale":{"domain":[2433897,2453897],"nice":false,"zero":false},"axis":{"title":null,"values":[2435000,2440000,2445000,2450000],"labelExpr":"datum.value == 2435000 ? '2435000' : format(datum.value - 2400000, 'd')"}},
  "y":{"field":"y","type":"quantitative","scale":{"domain":[-0.0918,0.0705],"nice":false,"zero":false},"axis":{"title":null,"values":[-0.05,0],"format":".2f"}}},
 "layer":[
  {"data":{"name":"d11"},"transform":[{"filter":"datum.e > 0"}],"mark":{"type":"errorbar","color":"black","thickness":1},"encoding":{"yError":{"field":"e"}}},
  {"data":{"name":"d11"},"mark":{"type":"point"},"encoding":{}},
  {"data":{"name":"f11"},"mark":{"type":"line"},"encoding":{}}
 ]},
{"width":260,"height":126,"title":{"text":"RU Sct\u00a0\u00a0\u00a0\u00a0\u00a0\u00a0C = 2434898.19+19.701337\u00b7E","dx":22},
 "encoding":{"x":{"field":"x","type":"quantitative","scale":{"domain":[2417867,2452533],"nice":false,"zero":false},"axis":{"title":null,"values":[2420000,2430000,2440000,2450000],"labelExpr":"datum.value == 2420000 ? '2420000' : datum.value == 2450000 ? '' : format(datum.value - 2400000, 'd')","labelOffset":{"condition":{"test":"datum.value == 2420000","value":-7},"value":0}}},
  "y":{"field":"y","type":"quantitative","scale":{"domain":[-0.0313,0.222],"nice":false,"zero":false},"axis":{"title":null,"values":[0,0.05,0.1,0.15],"format":".2f"}}},
 "layer":[
  {"data":{"name":"d12"},"transform":[{"filter":"datum.e > 0"}],"mark":{"type":"errorbar","color":"black","thickness":1},"encoding":{"yError":{"field":"e"}}},
  {"data":{"name":"d12"},"mark":{"type":"point"},"encoding":{}},
  {"data":{"name":"f12"},"mark":{"type":"line"},"encoding":{}}
 ]},
{"width":260,"height":126,"title":{"text":"SS CMa\u00a0\u00a0\u00a0\u00a0\u00a0C = 2444099.78+12.357325\u00b7E","dx":21},
 "encoding":{"x":{"field":"x","type":"quantitative","scale":{"domain":[2434564,2454538],"nice":false,"zero":false},"axis":{"title":null,"values":[2440000,2445000,2450000],"labelExpr":"datum.value == 2440000 ? '2440000' : format(datum.value - 2400000, 'd')","labelOffset":{"condition":{"test":"datum.value == 2440000","value":-8},"value":0}}},
  "y":{"field":"y","type":"quantitative","scale":{"domain":[-0.1075,0.0275],"nice":false,"zero":false},"axis":{"title":null,"values":[-0.05,0],"format":".2f"}}},
 "layer":[
  {"data":{"name":"d13"},"transform":[{"filter":"datum.e > 0"}],"mark":{"type":"errorbar","color":"black","thickness":1},"encoding":{"yError":{"field":"e"}}},
  {"data":{"name":"d13"},"mark":{"type":"point"},"encoding":{}},
  {"data":{"name":"f13"},"mark":{"type":"line"},"encoding":{}}
 ]},
{"width":260,"height":126,"title":{"text":"δ Cep\u00a0\u00a0\u00a0\u00a0\u00a0\u00a0\u00a0\u00a0C = 2412028.96+5.3663645\u00b7E","dx":20},
 "encoding":{"x":{"field":"x","type":"quantitative","scale":{"domain":[2369622,2453946],"nice":false,"zero":false},"axis":{"title":null,"values":[2380000,2400000,2420000,2440000],"labelExpr":"datum.value == 2400000 ? '' : datum.value < 2430000 ? format(datum.value, 'd') : format(datum.value - 2400000, 'd')","labelOffset":{"condition":{"test":"datum.value == 2380000","value":-11},"value":-2}}},
  "y":{"field":"y","type":"quantitative","scale":{"domain":[-0.1074,0.0812],"nice":false,"zero":false},"axis":{"title":null,"values":[-0.05,0,0.05],"format":".2f"}}},
 "layer":[
  {"data":{"name":"d14"},"transform":[{"filter":"datum.e > 0"}],"mark":{"type":"errorbar","color":"black","thickness":1},"encoding":{"yError":{"field":"e"}}},
  {"data":{"name":"d14"},"mark":{"type":"point"},"encoding":{}},
  {"data":{"name":"f14"},"mark":{"type":"line"},"encoding":{}}
 ]},
{"width":260,"height":126,"title":{"text":"α UMi\u00a0\u00a0\u00a0\u00a0\u00a0\u00a0\u00a0\u00a0C = 2424100.98+3.9686294\u00b7E","dx":20},
 "encoding":{"x":{"field":"x","type":"quantitative","scale":{"domain":[2392253,2457229],"nice":false,"zero":false},"axis":{"title":null,"values":[2400000,2420000,2440000],"labelExpr":"datum.value == 2400000 ? '2400000' : format(datum.value - 2400000, 'd')","labelOffset":{"condition":{"test":"datum.value == 2400000","value":-11},"value":0}}},
  "y":{"field":"y","type":"quantitative","scale":{"domain":[-0.534,4.644],"nice":false,"zero":false},"axis":{"title":null,"values":[0,1,2,3],"format":"d"}}},
 "layer":[
  {"data":{"name":"d15"},"transform":[{"filter":"datum.t != 'v'"}],"mark":{"type":"point"},"encoding":{}},
  {"data":{"name":"d15"},"transform":[{"filter":"datum.t == 'v'"}],"mark":{"type":"point","shape":"M-1,0L1,0M0,-1L0,1","filled":false,"size":30,"strokeWidth":1},"encoding":{}},
  {"data":{"name":"f15"},"mark":{"type":"line"},"encoding":{}}
 ]},
{"width":260,"height":126,"title":{"text":"VY Car\u00a0\u00a0\u00a0\u00a0\u00a0\u00a0C = 2434245.13+18.936022\u00b7E","dx":21},
 "encoding":{"x":{"field":"x","type":"quantitative","scale":{"domain":[2413579,2454579],"nice":false,"zero":false},"axis":{"title":null,"values":[2420000,2430000,2440000,2450000],"labelExpr":"datum.value == 2420000 ? '2420000' : format(datum.value - 2400000, 'd')","labelOffset":{"condition":{"test":"datum.value == 2420000","value":-11},"value":0}}},
  "y":{"field":"y","type":"quantitative","scale":{"domain":[-1.308,0.287],"nice":false,"zero":false},"axis":{"title":null,"values":[-1,-0.5,0],"format":".1f"}}},
 "layer":[
  {"data":{"name":"d16"},"mark":{"type":"point"},"encoding":{}},
  {"data":{"name":"f16"},"mark":{"type":"line"},"encoding":{}}
 ]},
{"width":260,"height":126,"title":{"text":"TX Cyg\u00a0\u00a0\u00a0\u00a0\u00a0C = 2433380.73+14.708937\u00b7E","dx":23},
 "encoding":{"x":{"field":"x","type":"quantitative","scale":{"domain":[2414488,2452537],"nice":false,"zero":false},"axis":{"title":null,"values":[2420000,2430000,2440000,2450000],"labelExpr":"datum.value == 2420000 ? '2420000' : datum.value == 2450000 ? '' : format(datum.value - 2400000, 'd')","labelOffset":{"condition":{"test":"datum.value == 2420000","value":-11},"value":0}}},
  "y":{"field":"y","type":"quantitative","scale":{"domain":[-0.0306,0.1405],"nice":false,"zero":false},"axis":{"title":null,"values":[0,0.05,0.1],"format":".2f"}}},
 "layer":[
  {"data":{"name":"d17"},"transform":[{"filter":"datum.e > 0"}],"mark":{"type":"errorbar","color":"black","thickness":1},"encoding":{"yError":{"field":"e"}}},
  {"data":{"name":"d17"},"mark":{"type":"point"},"encoding":{}},
  {"data":{"name":"f17"},"mark":{"type":"line"},"encoding":{}}
 ]},
{"width":260,"height":126,"title":{"text":"S Vul\u00a0\u00a0\u00a0\u00a0\u00a0\u00a0\u00a0C = 2426112.75+68.020270\u00b7E","dx":25},
 "encoding":{"x":{"field":"x","type":"quantitative","scale":{"domain":[2399522,2452765],"nice":false,"zero":false},"axis":{"title":null,"values":[2420000,2440000],"labelExpr":"datum.value == 2420000 ? '2420000' : format(datum.value - 2400000, 'd')","labelOffset":{"condition":{"test":"datum.value == 2420000","value":-9},"value":0}}},
  "y":{"field":"y","type":"quantitative","scale":{"domain":[-0.274,1.258],"nice":false,"zero":false},"axis":{"title":null,"values":[0,0.5],"format":".1f"}}},
 "layer":[
  {"data":{"name":"d18"},"transform":[{"filter":"datum.t != 'v'"}],"mark":{"type":"point"},"encoding":{}},
  {"data":{"name":"d18"},"transform":[{"filter":"datum.t == 'v'"}],"mark":{"type":"point","shape":"M-1,0L1,0M0,-1L0,1","filled":false,"size":30,"strokeWidth":1},"encoding":{}},
  {"data":{"name":"f18"},"mark":{"type":"line"},"encoding":{}}
 ]},
{"width":260,"height":126,"title":{"text":"WZ Car\u00a0\u00a0\u00a0\u00a0\u00a0C = 2434247.53+23.013198\u00b7E","dx":22},
 "encoding":{"x":{"field":"x","type":"quantitative","scale":{"domain":[2413579,2454579],"nice":false,"zero":false},"axis":{"title":null,"values":[2420000,2430000,2440000,2450000],"labelExpr":"datum.value == 2420000 ? '2420000' : format(datum.value - 2400000, 'd')","labelOffset":{"condition":{"test":"datum.value == 2420000","value":-11},"value":0}}},
  "y":{"field":"y","type":"quantitative","scale":{"domain":[-0.0375,0.191],"nice":false,"zero":false},"axis":{"title":null,"values":[0,0.05,0.1,0.15],"format":".2f"}}},
 "layer":[
  {"data":{"name":"d19"},"transform":[{"filter":"datum.e > 0"}],"mark":{"type":"errorbar","color":"black","thickness":1},"encoding":{"yError":{"field":"e"}}},
  {"data":{"name":"d19"},"mark":{"type":"point"},"encoding":{}},
  {"data":{"name":"f19"},"mark":{"type":"line"},"encoding":{}}
 ]},
{"width":260,"height":126,"title":{"text":"ζ Gem\u00a0\u00a0\u00a0\u00a0\u00a0\u00a0C = 2424711.54+10.152103\u00b7E","dx":21},
 "encoding":{"x":{"field":"x","type":"quantitative","scale":{"domain":[2393697,2456727],"nice":false,"zero":false},"axis":{"title":"JD","titleFont":"Liberation Serif","titleFontStyle":"italic","titleFontWeight":"normal","titleFontSize":19,"titleColor":"black","titleX":143,"titleY":44,"titleBaseline":"top","titleAlign":"center","values":[2400000,2420000,2440000],"labelExpr":"datum.value == 2400000 ? '2400000' : format(datum.value - 2400000, 'd')","labelOffset":{"condition":{"test":"datum.value == 2400000","value":-10},"value":0}}},
  "y":{"field":"y","type":"quantitative","scale":{"domain":[-0.457,0.2396],"nice":false,"zero":false},"axis":{"title":null,"values":[-0.4,-0.2,0],"format":".1f"}}},
 "layer":[
  {"data":{"name":"d20"},"transform":[{"filter":"datum.e > 0"}],"mark":{"type":"errorbar","color":"black","thickness":1},"encoding":{"yError":{"field":"e"}}},
  {"data":{"name":"d20"},"mark":{"type":"point"},"encoding":{}},
  {"data":{"name":"f20"},"mark":{"type":"line"},"encoding":{}}
 ]},
{"width":260,"height":126,"title":{"text":"SV Vul\u00a0\u00a0\u00a0\u00a0\u00a0C = 2433354.26+45.087676\u00b7E","dx":23},
 "encoding":{"x":{"field":"x","type":"quantitative","scale":{"domain":[2414010,2452622],"nice":false,"zero":false},"axis":{"title":null,"values":[2420000,2430000,2440000,2450000],"labelExpr":"datum.value == 2420000 ? '2420000' : datum.value == 2450000 ? '' : format(datum.value - 2400000, 'd')","labelOffset":{"condition":{"test":"datum.value == 2420000","value":-12},"value":0}}},
  "y":{"field":"y","type":"quantitative","scale":{"domain":[-0.618,0.166],"nice":false,"zero":false},"axis":{"title":null,"values":[-0.4,-0.2,0],"format":".1f"}}},
 "layer":[
  {"data":{"name":"d21"},"transform":[{"filter":"datum.t != 'v'"}],"mark":{"type":"point"},"encoding":{}},
  {"data":{"name":"d21"},"transform":[{"filter":"datum.t == 'v'"}],"mark":{"type":"point","shape":"M-1,0L1,0M0,-1L0,1","filled":false,"size":30,"strokeWidth":1},"encoding":{}},
  {"data":{"name":"f21"},"mark":{"type":"line"},"encoding":{}}
 ]}
]
}
